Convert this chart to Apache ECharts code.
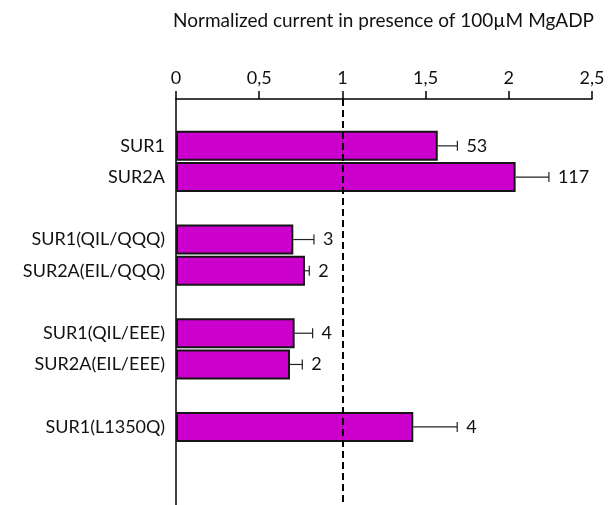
<!DOCTYPE html>
<html>
<head>
<meta charset="utf-8">
<script src="https://cdn.jsdelivr.net/npm/echarts@6/dist/echarts.min.js"></script>
<style>
  html, body { margin: 0; padding: 0; background: #fff; overflow: hidden; }
  #chart { width: 610px; height: 505px; }
</style>
</head>
<body>
<div id="chart"></div>
<script>
// Constructs, top to bottom; blank entries leave spacing between groups
const categories = ['', 'SUR1', 'SUR2A', '', 'SUR1(QIL/QQQ)', 'SUR2A(EIL/QQQ)', '', 'SUR1(QIL/EEE)', 'SUR2A(EIL/EEE)', '', 'SUR1(L1350Q)', '', ''];
// Mean normalized current
const means = [null, 1.573, 2.041, null, 0.705, 0.775, null, 0.713, 0.685, null, 1.426, null, null];
// Standard error
const errors = [null, 0.118, 0.200, null, 0.124, 0.026, null, 0.108, 0.074, null, 0.264, null, null];
// Number of patches
const nLabels = ['', '53', '117', '', '3', '2', '', '4', '2', '', '4', '', ''];
// Axis ticks
const xTicks = [0, 0.5, 1, 1.5, 2, 2.5];

const FONT = 'Lato, "Open Sans", sans-serif';
const FS = 18;

const errData = [];
means.forEach((m, i) => {
  if (m !== null) errData.push([m, i, errors[i]]);
});

const chart = echarts.init(document.getElementById('chart'), null, { renderer: 'canvas' });

chart.setOption({
  animation: false,
  backgroundColor: '#fff',
  title: {
    text: 'Normalized current in presence of 100µM MgADP',
    left: 168,
    top: 6,
    textStyle: { fontFamily: FONT, fontSize: 19, fontWeight: 'normal', color: '#111' }
  },
  grid: { left: 176, right: 18, top: 99, height: 413, containLabel: false },
  xAxis: {
    type: 'value',
    position: 'top',
    min: xTicks[0],
    max: xTicks[xTicks.length - 1],
    interval: xTicks[1] - xTicks[0],
    axisLine: { show: true, lineStyle: { color: '#000', width: 1.5 } },
    axisTick: { show: true, inside: false, length: 8, lineStyle: { color: '#000', width: 1.5 } },
    splitLine: { show: false },
    axisLabel: {
      margin: 12,
      fontFamily: FONT, fontSize: FS, color: '#111',
      formatter: v => String(v).replace('.', ',')
    }
  },
  yAxis: {
    type: 'category',
    inverse: true,
    data: categories,
    axisLine: { show: true, lineStyle: { color: '#000', width: 1.5 } },
    axisTick: { show: false },
    splitLine: { show: false },
    axisLabel: { margin: 11, fontFamily: FONT, fontSize: FS, color: '#111', interval: 0 }
  },
  series: [
    {
      type: 'bar',
      data: means,
      barWidth: 30,
      itemStyle: { color: '#CC00CC', borderColor: '#151515', borderWidth: 2 },
      markLine: {
        silent: true,
        symbol: 'none',
        label: { show: false },
        lineStyle: { color: '#000', width: 2, type: [7, 4] },
        data: [{ xAxis: 1 }]
      },
      z: 2
    },
    {
      type: 'custom',
      data: errData,
      encode: { x: 0, y: 1 },
      z: 3,
      renderItem: (params, api) => {
        const v = api.value(0), i = api.value(1), e = api.value(2);
        const p0 = api.coord([v, i]);
        const p1 = api.coord([v + e, i]);
        const style = { stroke: '#222', lineWidth: 1.2 };
        return {
          type: 'group',
          children: [
            { type: 'line', shape: { x1: p0[0], y1: p0[1], x2: p1[0], y2: p1[1] }, style },
            { type: 'line', shape: { x1: p1[0], y1: p1[1] - 5, x2: p1[0], y2: p1[1] + 5 }, style },
            {
              type: 'text',
              x: p1[0] + 9,
              y: p1[1],
              style: {
                text: nLabels[i],
                fill: '#111',
                font: FS + 'px ' + FONT,
                textAlign: 'left',
                textVerticalAlign: 'middle'
              }
            }
          ]
        };
      }
    }
  ]
});
</script>
</body>
</html>
